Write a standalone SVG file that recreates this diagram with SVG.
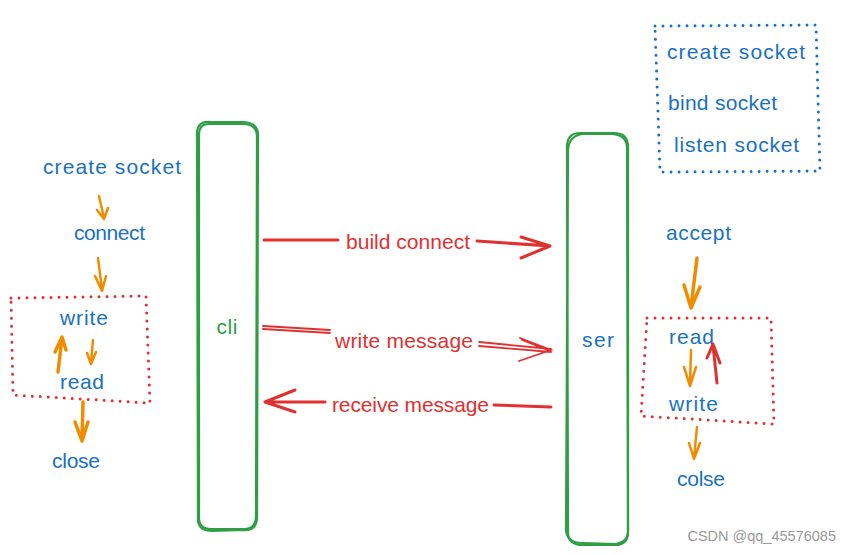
<svg xmlns="http://www.w3.org/2000/svg" width="851" height="555" viewBox="0 0 851 555">
<defs>
<style>
.t{font-family:"Liberation Sans",sans-serif;font-size:21px;}
.blue{fill:#1971c2;}
.red{fill:#e03131;}
.green{fill:#2f9e44;}
.bar{fill:none;stroke:#2f9e44;stroke-width:2.2;}
.dotr{fill:none;stroke:#e03131;stroke-width:3;stroke-dasharray:0 8;stroke-linecap:round;}
.dotb{fill:none;stroke:#1971c2;stroke-width:3;stroke-dasharray:0 8;stroke-linecap:round;}
.or{fill:none;stroke:#f08c00;stroke-width:2.5;stroke-linecap:round;stroke-linejoin:round;}
.orb{fill:none;stroke:#f08c00;stroke-width:3.5;stroke-linecap:round;stroke-linejoin:round;}
.rd{fill:none;stroke:#e03131;stroke-width:3;stroke-linecap:round;stroke-linejoin:round;}
.rdt{fill:none;stroke:#e03131;stroke-width:1.8;stroke-linecap:round;}
</style>
</defs>
<rect width="851" height="555" fill="#ffffff"/>

<g id="cli">
<path class="bar" d="M210,122 Q196,121 197,136 L198,517 Q197,531 212,531 L244,530 Q257,531 257,517 L258,137 Q259,123 244,122 Z"/>
<path class="bar" d="M209,124 Q198,124 199,137 L199,518 Q199,529 211,529 L244,529 Q256,529 256,516 L257,137 Q257,125 245,124 Z" stroke-width="1.3"/>
<text class="t green" x="227" y="334" text-anchor="middle" textLength="21">cli</text>
</g>

<g id="ser">
<path class="bar" d="M580,133 Q567,133 567,147 L568,532 Q568,545 583,545 L615,545 Q628,545 628,532 L628,147 Q628,133 614,133 Z"/>
<path class="bar" d="M582,134 Q569,136 568,150 L566,530 Q567,543 582,543 L616,544 Q629,542 628,530 L627,148 Q627,135 612,134 Z" stroke-width="1.3"/>
<text class="t blue" x="598" y="347" text-anchor="middle" textLength="32">ser</text>
</g>

<g id="server-setup">
<path class="dotb" d="M655,26 L816,25 L820,171 L660,172 Z"/>
<text class="t blue" x="667" y="59" textLength="138">create socket</text>
<text class="t blue" x="668" y="110" textLength="109">bind socket</text>
<text class="t blue" x="674" y="152" textLength="125">listen socket</text>
</g>

<g id="client-steps">
<text class="t blue" x="43" y="174" textLength="138">create socket</text>
<text class="t blue" x="74" y="240" textLength="71">connect</text>
<text class="t blue" x="52" y="468" textLength="48">close</text>
</g>

<g id="client-loop">
<path class="dotr" d="M11,298 L146,296 L150,403 L13,395 Z"/>
<text class="t blue" x="60" y="325" textLength="48">write</text>
<text class="t blue" x="60" y="389" textLength="44">read</text>
</g>

<g id="server-steps">
<text class="t blue" x="666" y="240" textLength="65">accept</text>
<text class="t blue" x="677" y="486" textLength="48">colse</text>
</g>

<g id="server-loop">
<path class="dotr" d="M647,318 L771,318 L774,424 L641,416 Z"/>
<text class="t blue" x="669" y="344" textLength="45">read</text>
<text class="t blue" x="669" y="411" textLength="49">write</text>
</g>

<g id="connectors">
<path class="or" d="M99,196 L104,218 M97,210 L104,219 L108,208"/>
<path class="or" d="M98,258 L102,290 M95,276 L102,291 L106,276"/>
<path class="orb" d="M58,372 L62,338 M55,352 L62,337 L66,350"/>
<path class="or" d="M93,340 L91,363 M87,353 L91,364 L96,352"/>
<path class="orb" d="M83,402 L82,440 M75,422 L82,441 L88,422"/>
<path class="orb" d="M697,258 L691,307 M684,285 L691,308 L700,287"/>
<path class="or" d="M691,350 L690,385 M684,367 L690,386 L696,367"/>
<path class="rd" d="M717,383 L713,345 M707,358 L713,344 L720,363" stroke-width="2.5"/>
<path class="or" d="M697,427 L694,458 M689,443 L694,459 L700,443"/>
<path class="rd" d="M264,240 L338,240"/>
<path class="rd" d="M477,241 L550,246 M521,237 L550,246 L521,258"/>
<text class="t red" x="346" y="249" textLength="124">build connect</text>
<path class="rdt" d="M263,326 L330,330 M263,329 L330,333"/>
<path class="rdt" d="M479,342 L551,349 M479,346 L551,352 M520,338 L551,350 L519,361 M522,340 L550,351"/>
<text class="t red" x="335" y="348" textLength="138">write message</text>
<path class="rd" d="M266,402 L325,402 M295,390 L265,402 L295,412"/>
<path class="rd" d="M494,405 L551,407"/>
<text class="t red" x="332" y="412" textLength="157">receive message</text>
</g>

<text x="836" y="541" text-anchor="end" style="font-family:'Liberation Sans',sans-serif;font-size:14.5px;fill:#999999;">CSDN @qq_45576085</text>
</svg>
